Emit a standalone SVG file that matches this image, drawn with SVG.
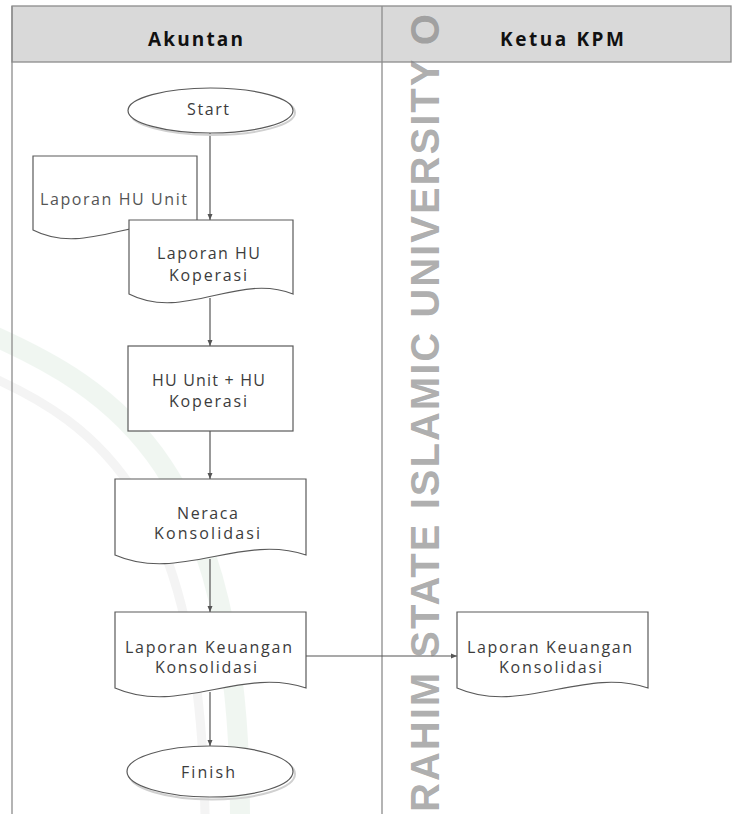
<svg xmlns="http://www.w3.org/2000/svg" width="732" height="814" viewBox="0 0 732 814">
<style>
.shape{fill:#fff;stroke:#5a5a5a;stroke-width:1.2}
.shadow{fill:none;stroke:#d0d0d0;stroke-width:2}
.lbl{font-family:"Open Sans",Lato,sans-serif;font-size:16px;fill:#3c3c3c}
.hdr{font-family:"Open Sans",Lato,sans-serif;font-size:19px;font-weight:bold;fill:#111}
.conn{fill:none;stroke:#555;stroke-width:1.2}
.grid{fill:none;stroke:#8c8c8c;stroke-width:1.3}
</style>
<defs>
<marker id="arr" markerUnits="userSpaceOnUse" markerWidth="7" markerHeight="6" refX="6" refY="3" orient="auto">
<path d="M0,0.5 L6,3 L0,5.5 Z" fill="#555"/>
</marker>
</defs>
<rect width="732" height="814" fill="#fff"/>
<g id="watermark-logo" fill="none" opacity="0.35">
<path d="M-20,330 C120,390 240,470 240,814" stroke="#d6e8da" stroke-width="20"/>
<path d="M-20,372 C105,425 200,505 205,814" stroke="#e0e0e0" stroke-width="9"/>
</g>
<g id="lanes">
<rect x="12" y="6" width="719" height="56" fill="#d9d9d9" stroke="#8c8c8c" stroke-width="1.3"/>
<line class="grid" x1="12" y1="6" x2="12" y2="814"/>
<line class="grid" x1="382" y1="6" x2="382" y2="814"/>
<text class="hdr" x="148" y="46" textLength="95" lengthAdjust="spacing">Akuntan</text>
<text class="hdr" x="500" y="46" textLength="124" lengthAdjust="spacing">Ketua KPM</text>
</g>
<g id="connectors">
<line class="conn" x1="210" y1="133" x2="210" y2="220" marker-end="url(#arr)"/>
<line class="conn" x1="210" y1="298" x2="210" y2="346" marker-end="url(#arr)"/>
<line class="conn" x1="210" y1="431" x2="210" y2="479" marker-end="url(#arr)"/>
<line class="conn" x1="210" y1="559" x2="210" y2="612" marker-end="url(#arr)"/>
<line class="conn" x1="210" y1="692" x2="210" y2="746" marker-end="url(#arr)"/>
<line class="conn" x1="306" y1="656" x2="457" y2="656" marker-end="url(#arr)"/>
</g>
<g id="start">
<ellipse class="shadow" cx="212.5" cy="112.5" rx="82.5" ry="22.5"/>
<ellipse class="shape" cx="210.5" cy="110.5" rx="82.5" ry="22.5"/>
<text class="lbl" x="187" y="115" textLength="42" lengthAdjust="spacing">Start</text>
</g>
<g id="laporan-hu-unit">
<path class="shape" d="M33,156 H197 V230 C142.3,208 87.7,258 33,230 Z"/>
<text class="lbl" x="40" y="205" textLength="147" lengthAdjust="spacing" style="fill:#555">Laporan HU Unit</text>
</g>
<g id="laporan-hu-koperasi">
<path class="shape" d="M129,220 H293 V294 C238.3,272 183.7,322 129,294 Z"/>
<text class="lbl" x="157" y="259" textLength="103" lengthAdjust="spacing">Laporan HU</text>
<text class="lbl" x="169" y="281" textLength="78" lengthAdjust="spacing">Koperasi</text>
</g>
<g id="hu-unit-plus-hu-koperasi">
<rect class="shape" x="128" y="346" width="165" height="85"/>
<text class="lbl" x="152" y="386" textLength="113" lengthAdjust="spacing">HU Unit + HU</text>
<text class="lbl" x="169" y="407" textLength="78" lengthAdjust="spacing">Koperasi</text>
</g>
<g id="neraca-konsolidasi">
<path class="shape" d="M115,479 H306 V555 C242.3,533 178.7,583 115,555 Z"/>
<text class="lbl" x="177" y="519" textLength="61" lengthAdjust="spacing">Neraca</text>
<text class="lbl" x="154" y="539" textLength="106" lengthAdjust="spacing">Konsolidasi</text>
</g>
<g id="laporan-keuangan-akuntan">
<path class="shape" d="M115,612 H306 V688 C242.3,666 178.7,716 115,688 Z"/>
<text class="lbl" x="125" y="653" textLength="167" lengthAdjust="spacing">Laporan Keuangan</text>
<text class="lbl" x="155" y="673" textLength="102" lengthAdjust="spacing">Konsolidasi</text>
</g>
<g id="laporan-keuangan-ketua">
<path class="shape" d="M457,612 H648 V688 C584.3,666 520.7,716 457,688 Z"/>
<text class="lbl" x="467" y="653" textLength="165" lengthAdjust="spacing">Laporan Keuangan</text>
<text class="lbl" x="499" y="673" textLength="103" lengthAdjust="spacing">Konsolidasi</text>
</g>
<g id="finish">
<ellipse class="shadow" cx="212" cy="774" rx="83" ry="25.5"/>
<ellipse class="shape" cx="210" cy="771.5" rx="83" ry="25.5"/>
<text class="lbl" x="181" y="778" textLength="54" lengthAdjust="spacing">Finish</text>
</g>
<g id="watermark-text">
<text transform="translate(439,812) rotate(-90)" x="0" y="0" font-family="'Liberation Sans',Arial,sans-serif" font-weight="bold" font-size="40" fill="#808080" fill-opacity="0.65" textLength="798" lengthAdjust="spacing">RAHIM STATE ISLAMIC UNIVERSITY O</text>
</g>
</svg>
